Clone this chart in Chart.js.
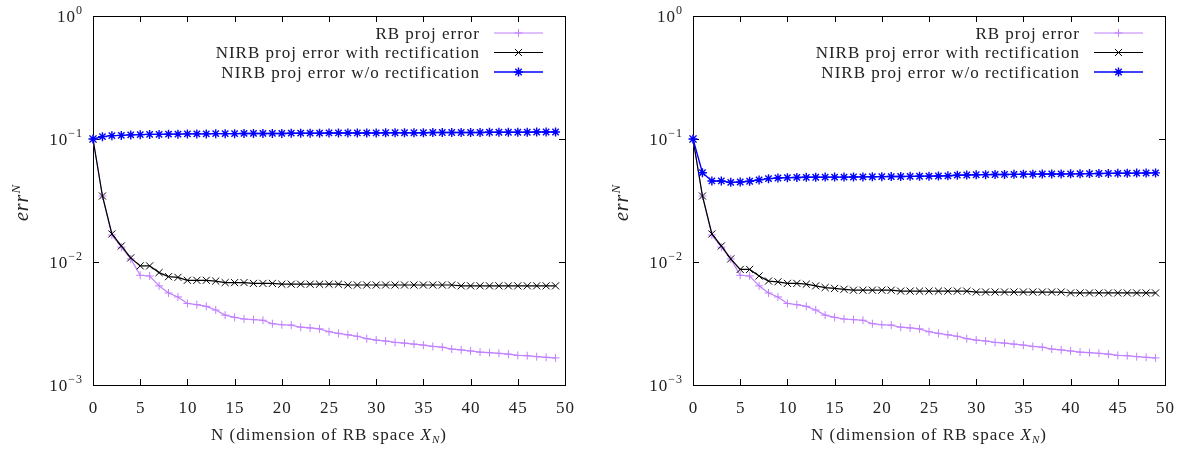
<!DOCTYPE html>
<html>
<head>
<meta charset="utf-8">
<script src="https://cdn.jsdelivr.net/npm/chart.js@4.4.0/dist/chart.umd.min.js"></script>
<style>
  body { margin: 0; background: #fff; }
  .panel { position: absolute; top: 0; height: 450px; }
  #left { left: 0; width: 600px; }
  #right { left: 600px; width: 581px; }
</style>
</head>
<body>
<div class="panel" id="left"><canvas id="chartLeft"></canvas></div>
<div class="panel" id="right"><canvas id="chartRight"></canvas></div>
<script>
'use strict';

// N = dimension of the RB space
const nValues = [0, 1, 2, 3, 4, 5, 6, 7, 8, 9,
    10, 11, 12, 13, 14, 15, 16, 17, 18, 19,
    20, 21, 22, 23, 24, 25, 26, 27, 28, 29,
    30, 31, 32, 33, 34, 35, 36, 37, 38, 39,
    40, 41, 42, 43, 44, 45, 46, 47, 48, 49];

// RB proj error (same in both panels)
const rbError = [0.1, 0.0344, 0.0166, 0.0132, 0.0106, 0.0078, 0.0077, 0.0064, 0.0056, 0.0052,
    0.0046, 0.0045, 0.00436, 0.00407, 0.0037, 0.00355, 0.00344, 0.0034, 0.00336, 0.00315,
    0.00309, 0.00307, 0.00295, 0.00291, 0.00286, 0.00271, 0.00263, 0.00256, 0.00249, 0.00238,
    0.00232, 0.00228, 0.00222, 0.00219, 0.00215, 0.00211, 0.00206, 0.00203, 0.00196, 0.00193,
    0.00189, 0.00185, 0.00183, 0.00181, 0.00178, 0.00174, 0.00173, 0.0017, 0.00168, 0.00166];

// left panel
const nirbRectLeft = [0.1, 0.0344, 0.0169, 0.0135, 0.0108, 0.0093, 0.0093, 0.0082, 0.0076, 0.0075,
    0.0071, 0.0071, 0.0071, 0.0070, 0.0068, 0.0068, 0.0068, 0.0067, 0.0067, 0.0067,
    0.0066, 0.0066, 0.0066, 0.0066, 0.0066, 0.0066, 0.0066, 0.0065, 0.0065, 0.0065,
    0.0065, 0.0065, 0.0065, 0.0065, 0.0065, 0.0065, 0.0065, 0.0065, 0.0065, 0.0064,
    0.0064, 0.0064, 0.0064, 0.0064, 0.0064, 0.0064, 0.0064, 0.0064, 0.0064, 0.0064];
const nirbNoRectLeft = [0.1, 0.1045, 0.1065, 0.107, 0.108, 0.1085, 0.109, 0.109, 0.1095, 0.1095,
    0.110, 0.110, 0.110, 0.1105, 0.1105, 0.1105, 0.111, 0.111, 0.111, 0.111,
    0.111, 0.1115, 0.1115, 0.1115, 0.1115, 0.112, 0.112, 0.112, 0.112, 0.112,
    0.112, 0.1125, 0.1125, 0.1125, 0.1125, 0.1125, 0.113, 0.113, 0.113, 0.113,
    0.113, 0.113, 0.1135, 0.1135, 0.1135, 0.1135, 0.1135, 0.114, 0.114, 0.114];

// right panel
const nirbRectRight = [0.1, 0.0344, 0.0169, 0.0135, 0.0106, 0.0087, 0.0087, 0.0077, 0.0070, 0.0069,
    0.0067, 0.0067, 0.0066, 0.0064, 0.0062, 0.0061, 0.0060, 0.0059, 0.0059, 0.0059,
    0.0059, 0.0059, 0.0058, 0.0058, 0.0058, 0.0058, 0.0058, 0.0058, 0.0058, 0.0058,
    0.0057, 0.0057, 0.0057, 0.0057, 0.0057, 0.0057, 0.0057, 0.0057, 0.0057, 0.0057,
    0.0056, 0.0056, 0.0056, 0.0056, 0.0056, 0.0056, 0.0056, 0.0056, 0.0056, 0.0056];
const nirbNoRectRight = [0.1, 0.0532, 0.0456, 0.0456, 0.0444, 0.0447, 0.0453, 0.0465, 0.0476, 0.0482,
    0.0485, 0.0487, 0.0488, 0.0489, 0.049, 0.049, 0.049, 0.0491, 0.0492, 0.0493,
    0.0494, 0.0495, 0.0496, 0.0497, 0.0498, 0.0499, 0.050, 0.0502, 0.0508, 0.051,
    0.0512, 0.0513, 0.0514, 0.0515, 0.0516, 0.0517, 0.0518, 0.0519, 0.052, 0.052,
    0.0521, 0.0522, 0.0523, 0.0524, 0.0525, 0.0526, 0.0527, 0.0528, 0.0529, 0.053];

const xTicks = [0, 5, 10, 15, 20, 25, 30, 35, 40, 45, 50];
const yTicks = [1, 0.1, 0.01, 0.001];
const yTickExponents = ['0', '\u22121', '\u22122', '\u22123'];
const legendLabels = ['RB proj error', 'NIRB proj error with rectification', 'NIRB proj error w/o rectification'];

const FONT = '"Liberation Serif", "DejaVu Serif", serif';
const TEXT_COLOR = '#222';
const SPACING = '1px';

// draw a list of text runs (for sub/superscripts), aligned around x
function drawRuns(ctx, runs, x, y, align) {
    let total = 0;
    runs.forEach(r => {
        ctx.font = r.font;
        r.w = ctx.measureText(r.text).width;
        total += r.w;
    });
    let cx = align === 'center' ? x - total / 2 : (align === 'right' ? x - total : x);
    ctx.textAlign = 'left';
    ctx.textBaseline = 'alphabetic';
    runs.forEach(r => {
        ctx.font = r.font;
        ctx.fillText(r.text, cx, y + (r.dy || 0));
        cx += r.w;
    });
}

const gnuplotAxes = {
    id: 'gnuplotAxes',
    beforeDatasetsDraw(chart) {
        const {ctx, chartArea: a, scales: {x, y}} = chart;
        ctx.save();
        ctx.strokeStyle = '#000';
        ctx.lineWidth = 1;
        ctx.beginPath();
        xTicks.forEach(t => {
            const px = Math.round(x.getPixelForValue(t)) + 0.5;
            ctx.moveTo(px, a.bottom); ctx.lineTo(px, a.bottom - 6);
            ctx.moveTo(px, a.top); ctx.lineTo(px, a.top + 6);
        });
        yTicks.forEach(t => {
            const py = Math.round(y.getPixelForValue(t)) + 0.5;
            ctx.moveTo(a.left, py); ctx.lineTo(a.left + 6, py);
            ctx.moveTo(a.right, py); ctx.lineTo(a.right - 6, py);
        });
        ctx.stroke();
        ctx.strokeRect(Math.round(a.left) + 0.5, Math.round(a.top) + 0.5,
            Math.round(a.width), Math.round(a.height));
        ctx.restore();
    },
    afterDraw(chart) {
        const {ctx, chartArea: a, scales: {x, y}} = chart;
        ctx.save();
        ctx.fillStyle = TEXT_COLOR;
        ctx.letterSpacing = SPACING;

        // tick labels
        xTicks.forEach(t => {
            drawRuns(ctx, [{text: String(t), font: `17px ${FONT}`}], x.getPixelForValue(t) + 0.5, a.bottom + 28, 'center');
        });
        yTicks.forEach((t, i) => {
            drawRuns(ctx, [
                {text: '10', font: `17px ${FONT}`},
                {text: yTickExponents[i], font: `12px ${FONT}`, dy: -8}
            ], a.left - 10, y.getPixelForValue(t) + 6, 'right');
        });

        // axis titles
        drawRuns(ctx, [
            {text: 'N (dimension of RB space ', font: `17px ${FONT}`},
            {text: 'X', font: `italic 17px ${FONT}`},
            {text: 'N', font: `italic 11px ${FONT}`, dy: 3},
            {text: ')', font: `17px ${FONT}`}
        ], (a.left + a.right) / 2, a.bottom + 55, 'center');

        ctx.save();
        ctx.translate(28, (a.top + a.bottom) / 2 + 2);
        ctx.rotate(-Math.PI / 2);
        drawRuns(ctx, [
            {text: 'err', font: `italic 20px ${FONT}`},
            {text: 'N', font: `italic 13px ${FONT}`, dy: -8}
        ], 0, 0, 'center');
        ctx.restore();

        // legend: text on the left, line sample on the right
        chart.data.datasets.forEach((ds, i) => {
            const ly = a.top + 17 + i * 19.5;
            ctx.fillStyle = TEXT_COLOR;
            drawRuns(ctx, [{text: legendLabels[i], font: `17px ${FONT}`}], a.right - 85, ly + 5.5, 'right');
            ctx.strokeStyle = ds.borderColor;
            ctx.lineWidth = ds.borderWidth;
            ctx.beginPath();
            ctx.moveTo(a.right - 71, ly);
            ctx.lineTo(a.right - 22, ly);
            ctx.stroke();
            ctx.lineWidth = ds.pointBorderWidth;
            Chart.helpers.drawPoint(ctx, {
                pointStyle: ds.pointStyle,
                radius: ds.pointRadius,
                rotation: 0,
                borderWidth: ds.pointBorderWidth
            }, a.right - 46.5, ly);
        });
        ctx.restore();
    }
};

function makeDatasets(rect, noRect) {
    return [{
        label: legendLabels[0],
        data: rbError,
        borderColor: '#c080ff',
        pointBorderColor: '#c080ff',
        pointStyle: 'cross',
        pointRadius: 4,
        pointBorderWidth: 1,
        borderWidth: 1.2,
        order: 2
    }, {
        label: legendLabels[1],
        data: rect,
        borderColor: '#000000',
        pointBorderColor: '#000000',
        pointStyle: 'crossRot',
        pointRadius: 5,
        pointBorderWidth: 1,
        borderWidth: 1.2,
        order: 1
    }, {
        label: legendLabels[2],
        data: noRect,
        borderColor: '#0000ff',
        pointBorderColor: '#0000ff',
        pointStyle: 'star',
        pointRadius: 4.5,
        pointBorderWidth: 1.4,
        borderWidth: 1.4,
        order: 0
    }];
}

function makeChart(id, rect, noRect, rightPad) {
    const ctx = document.getElementById(id);
    return new Chart(ctx, {
        type: 'line',
        data: {
            labels: nValues,
            datasets: makeDatasets(rect, noRect)
        },
        options: {
            responsive: true,
            maintainAspectRatio: false,
            animation: false,
            clip: false,
            layout: {padding: {left: 93, right: rightPad, top: 16, bottom: 65}},
            elements: {line: {tension: 0, fill: false}, point: {hoverRadius: 4}},
            plugins: {legend: {display: false}, tooltip: {enabled: false}},
            scales: {
                x: {type: 'linear', min: 0, max: 50, display: false},
                y: {type: 'logarithmic', min: 0.001, max: 1, display: false}
            }
        },
        plugins: [gnuplotAxes]
    });
}

makeChart('chartLeft', nirbRectLeft, nirbNoRectLeft, 35);
makeChart('chartRight', nirbRectRight, nirbNoRectRight, 16);
</script>
</body>
</html>
